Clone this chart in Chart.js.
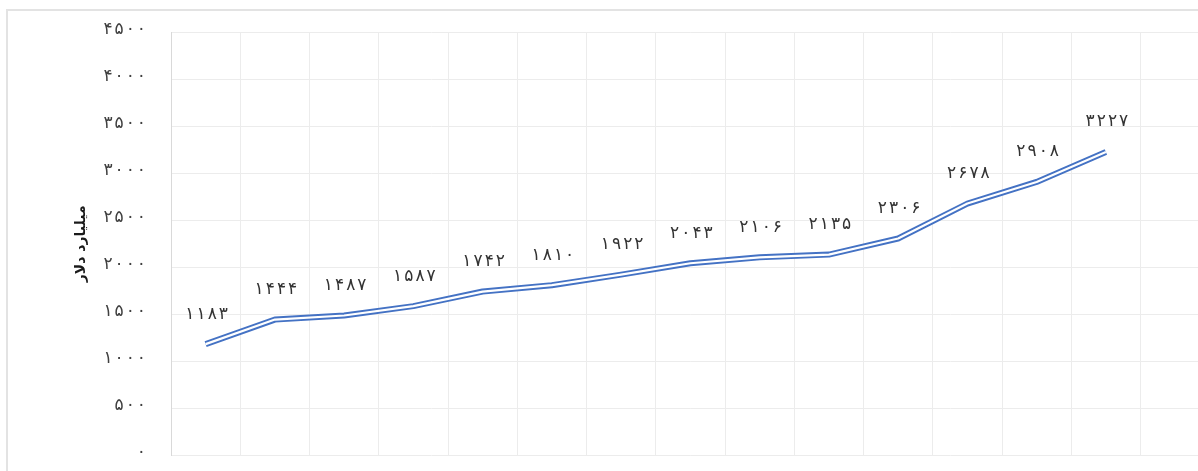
<!DOCTYPE html>
<html><head><meta charset="utf-8">
<script src="https://cdn.jsdelivr.net/npm/chart.js@4"></script>
<style>
html,body{margin:0;padding:0;background:#fff;overflow:hidden;width:1198px;height:471px;}
#frame{position:absolute;left:6px;top:9px;width:1400px;height:600px;border-left:2px solid #e3e3e3;border-top:2px solid #e3e3e3;box-sizing:border-box;}
#wrap{position:absolute;left:0;top:0;width:1300px;height:471px;}
</style></head><body>
<div id="frame"></div>
<div id="wrap"><canvas id="c" width="1300" height="471"></canvas></div>
<script>
const categories = ['۱','۲','۳','۴','۵','۶','۷','۸','۹','۱۰','۱۱','۱۲','۱۳','۱۴',''];
const values = [1183,1444,1487,1587,1742,1810,1922,2043,2106,2135,2306,2678,2908,3227];
const yTicks = [0,500,1000,1500,2000,2500,3000,3500,4000,4500];
const yTitle = 'میلیارد دلار';

const fa = s => String(s).replace(/\d/g, d => '۰۱۲۳۴۵۶۷۸۹'[d]);

// draw a digit string with extra spacing between characters (digits do not join)
function drawSpaced(ctx, text, x, y, spacing, align) {
  const chars = Array.from(text);
  const widths = chars.map(c => ctx.measureText(c).width);
  const total = widths.reduce((a, b) => a + b, 0) + spacing * (chars.length - 1);
  let cx = align === 'right' ? x - total : align === 'center' ? x - total / 2 : x;
  ctx.textAlign = 'left';
  chars.forEach((c, i) => { ctx.fillText(c, cx, y); cx += widths[i] + spacing; });
}

const textPlugin = {
  id: 'spacedText',
  afterDatasetsDraw(chart) {
    const ctx = chart.ctx;
    ctx.save();
    ctx.textBaseline = 'middle';
    // y tick labels
    const ys = chart.scales.y;
    ctx.font = '17px "DejaVu Sans"';
    ctx.fillStyle = '#404040';
    ys.ticks.forEach(t => {
      drawSpaced(ctx, fa(t.value), chart.chartArea.left - 25, ys.getPixelForValue(t.value) - 3, 2, 'right');
    });
    // data labels
    const meta = chart.getDatasetMeta(0);
    ctx.font = '17px "DejaVu Sans"';
    ctx.fillStyle = '#333333';
    meta.data.forEach((el, i) => {
      const v = chart.data.datasets[0].data[i];
      if (v == null) return;
      drawSpaced(ctx, fa(v), el.x + 1, el.y - 30, 2, 'center');
    });
    ctx.restore();
  }
};

const pad = { left: 73, top: 32, bottom: 16, right: 90 };

const chart = new Chart(document.getElementById('c'), {
  type: 'line',
  data: {
    labels: categories,
    datasets: [
      { data: values, order: 1, borderColor: '#4472C4', borderWidth: 6, pointRadius: 0, tension: 0, borderJoinStyle: 'round', fill: false },
      { data: values, order: 0, borderColor: '#ffffff', borderWidth: 2.2, pointRadius: 0, tension: 0, borderJoinStyle: 'round', fill: false }
    ]
  },
  options: {
    responsive: false,
    animation: false,
    devicePixelRatio: 1,
    layout: { padding: pad },
    plugins: { legend: { display: false }, tooltip: { enabled: false } },
    scales: {
      x: {
        offset: true,
        grid: { offset: true, color: '#ececec', lineWidth: 1, drawTicks: false },
        border: { display: false },
        ticks: { display: false },
        afterFit(s) { s.height = 0; s.paddingLeft = 0; s.paddingRight = 0; }
      },
      y: {
        min: 0, max: 4500,
        afterBuildTicks(s) { s.ticks = yTicks.map(v => ({ value: v })); },
        grid: { color: '#ececec', lineWidth: 1, drawTicks: false },
        border: { display: true, color: '#d9d9d9', width: 1 },
        ticks: { display: false },
        title: {
          display: true, text: yTitle, color: '#1a1a1a',
          font: { family: 'DejaVu Sans', size: 14, weight: 'bold' },
          padding: { top: 0, bottom: 0 }
        },
        afterFit(s) { s.width = 171 - pad.left; s.paddingTop = 0; s.paddingBottom = 0; }
      }
    }
  },
  plugins: [textPlugin]
});

// nudge layout so the plot area lands where the reference has it
for (let k = 0; k < 3; k++) {
  const a = chart.chartArea;
  pad.top -= (a.top - 32.3);
  pad.bottom += (a.bottom - 455.3);
  pad.right += (a.right - 1209.75);
  chart.options.layout.padding = { ...pad };
  chart.update();
}
</script>
</body></html>
